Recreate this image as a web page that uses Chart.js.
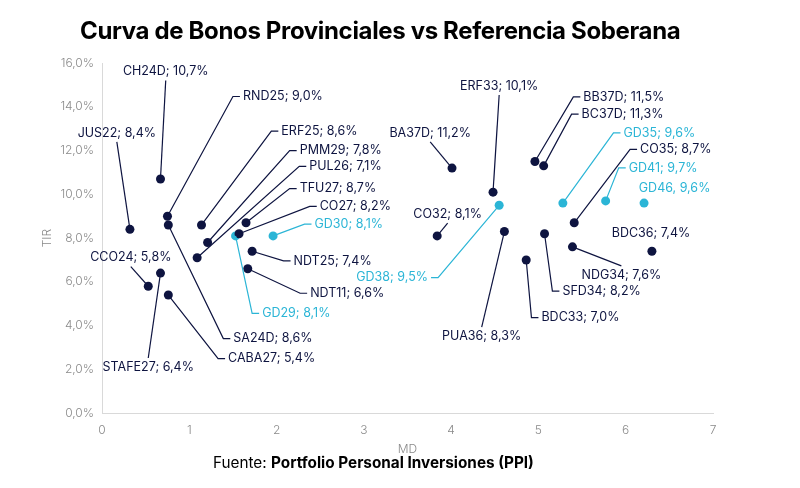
<!DOCTYPE html>
<html>
<head>
<meta charset="utf-8">
<script src="https://cdn.jsdelivr.net/npm/chart.js@4.4.1/dist/chart.umd.min.js"></script>
<style>
  body { margin: 0; background: #fff; font-family: Inter, "Noto Sans", sans-serif; }
  #wrap { position: relative; width: 800px; height: 488px; }
  #titulo { position: absolute; left: 80px; top: 16px; font-size: 24px; font-weight: 700; color: #000; letter-spacing: -0.35px; white-space: nowrap; }
  #fuente { position: absolute; left: 213px; top: 453px; font-size: 15.3px; color: #000; white-space: nowrap; letter-spacing: 0px; }
  #fuente b { font-weight: 700; }
  canvas { position: absolute; left: 0; top: 0; }
</style>
</head>
<body>
<div id="wrap">
  <canvas id="graficaCurva" width="800" height="488"></canvas>
  <div id="titulo">Curva de Bonos Provinciales vs Referencia Soberana</div>
  <div id="fuente">Fuente: <b>Portfolio Personal Inversiones (PPI)</b></div>
</div>
<script>
// Bonos provinciales (puntos azul oscuro)
const provNombres = ['JUS22', 'CH24D', 'RND25', 'SA24D', 'ERF25', 'PMM29', 'PUL26', 'TFU27', 'CO27', 'NDT25', 'NDT11', 'CCO24', 'STAFE27', 'CABA27',
                     'ERF33', 'BA37D', 'BB37D', 'BC37D', 'CO35', 'CO32', 'PUA36', 'SFD34', 'NDG34', 'BDC36', 'BDC33'];
const provMD  = [0.32, 0.67, 0.75, 0.76, 1.14, 1.21, 1.09, 1.65, 1.57, 1.72, 1.67, 0.53, 0.67, 0.76,
                 4.48, 4.01, 4.96, 5.06, 5.41, 3.84, 4.61, 5.07, 5.39, 6.30, 4.86];
const provTIR = [8.4, 10.7, 9.0, 8.6, 8.6, 7.8, 7.1, 8.7, 8.2, 7.4, 6.6, 5.8, 6.4, 5.4,
                 10.1, 11.2, 11.5, 11.3, 8.7, 8.1, 8.3, 8.2, 7.6, 7.4, 7.0];

// Referencia soberana (puntos celestes)
const sobNombres = ['GD29', 'GD30', 'GD38', 'GD35', 'GD41', 'GD46'];
const sobMD  = [1.53, 1.96, 4.55, 5.28, 5.77, 6.21];
const sobTIR = [8.1, 8.1, 9.5, 9.6, 9.7, 9.6];

// Ejes
const ticksMD = [0, 1, 2, 3, 4, 5, 6, 7];
const ticksTIR = [0, 2, 4, 6, 8, 10, 12, 14, 16];

// Posicion de cada etiqueta (en unidades del grafico) y tipo de guia
// 'codo': linea hasta el codo y texto a la derecha; 'codoIzq': texto a la izquierda;
// 'tallo': texto centrado con linea recta; 'nada': solo texto
const posEtiquetas = {
    RND25: ['codo', 1.50, 14.47], ERF25: ['codo', 1.94, 12.89], PMM29: ['codo', 2.15, 12.00],
    PUL26: ['codo', 2.26, 11.28], TFU27: ['codo', 2.15, 10.26], CO27: ['codo', 2.38, 9.45],
    GD30: ['codo', 2.32, 8.64], NDT25: ['codo', 2.08, 6.96], NDT11: ['codo', 2.27, 5.48],
    GD29: ['codo', 1.72, 4.56], SA24D: ['codo', 1.39, 3.41], CABA27: ['codo', 1.33, 2.49],
    BB37D: ['codo', 5.40, 14.45], BC37D: ['codo', 5.38, 13.66], GD35: ['codo', 5.86, 12.81],
    CO35: ['codo', 6.05, 12.05], GD41: ['codo', 5.92, 11.21], SFD34: ['codo', 5.16, 5.58],
    BDC33: ['codo', 4.92, 4.37], GD38: ['codoIzq', 3.85, 6.19],
    CH24D: ['tallo', 0.73, 15.61], JUS22: ['tallo', 0.17, 12.81], CCO24: ['tallo', 0.33, 7.11],
    STAFE27: ['tallo', 0.53, 2.11], ERF33: ['tallo', 4.55, 14.95], BA37D: ['tallo', 3.76, 12.81],
    CO32: ['tallo', 3.96, 9.10], NDG34: ['tallo', 5.95, 6.32], PUA36: ['tallo', 4.35, 3.52],
    GD46: ['nada', 6.56, 10.29], BDC36: ['nada', 6.29, 8.20]
};
// El original usa coma en vez de punto y coma para GD46
const separadores = { GD46: ', ' };

const AZUL = '#0e1440';
const CELESTE = '#2bb5d6';

function fmtPct(v) {
    return v.toFixed(1).replace('.', ',') + '%';
}

function armarPuntos(nombres, md, tir) {
    return nombres.map((n, i) => ({ x: md[i], y: tir[i], nombre: n }));
}

// Plugin que dibuja las etiquetas con sus lineas guia
const etiquetasPlugin = {
    id: 'etiquetasBonos',
    afterDatasetsDraw(chart) {
        const ctx = chart.ctx;
        const sx = chart.scales.x;
        const sy = chart.scales.y;
        ctx.save();
        ctx.font = '12.5px Inter, "Noto Sans", sans-serif';
        ctx.textBaseline = 'middle';
        ctx.lineWidth = 1.2;
        chart.data.datasets.forEach((ds, di) => {
            const meta = chart.getDatasetMeta(di);
            ds.data.forEach((p, i) => {
                const conf = posEtiquetas[p.nombre];
                if (!conf) return;
                const el = meta.data[i];
                const texto = p.nombre + (separadores[p.nombre] || '; ') + fmtPct(p.y);
                const tx = sx.getPixelForValue(conf[1]);
                const ty = sy.getPixelForValue(conf[2]);
                ctx.strokeStyle = ds.backgroundColor;
                ctx.fillStyle = ds.backgroundColor;
                ctx.beginPath();
                if (conf[0] === 'codo') {
                    ctx.moveTo(el.x, el.y);
                    ctx.lineTo(tx, ty);
                    ctx.lineTo(tx + 7, ty);
                    ctx.stroke();
                    ctx.textAlign = 'left';
                    ctx.fillText(texto, tx + 10, ty);
                } else if (conf[0] === 'codoIzq') {
                    ctx.moveTo(el.x, el.y);
                    ctx.lineTo(tx, ty);
                    ctx.lineTo(tx - 7, ty);
                    ctx.stroke();
                    ctx.textAlign = 'right';
                    ctx.fillText(texto, tx - 10, ty);
                } else if (conf[0] === 'tallo') {
                    const dy = el.y > ty ? 9 : -9;
                    ctx.moveTo(tx, ty + dy);
                    ctx.lineTo(el.x, el.y);
                    ctx.stroke();
                    ctx.textAlign = 'center';
                    ctx.fillText(texto, tx, ty);
                } else {
                    ctx.textAlign = 'center';
                    ctx.fillText(texto, tx, ty);
                }
            });
        });
        ctx.restore();
    }
};

document.addEventListener('DOMContentLoaded', function () {
    const canvas = document.getElementById('graficaCurva');
    new Chart(canvas.getContext('2d'), {
        type: 'scatter',
        data: {
            datasets: [
                {
                    label: 'Provinciales',
                    data: armarPuntos(provNombres, provMD, provTIR),
                    backgroundColor: AZUL,
                    borderWidth: 0,
                    pointRadius: 4.5
                },
                {
                    label: 'Soberanos',
                    data: armarPuntos(sobNombres, sobMD, sobTIR),
                    backgroundColor: CELESTE,
                    borderWidth: 0,
                    pointRadius: 4.5
                }
            ]
        },
        options: {
            responsive: false,
            animation: false,
            devicePixelRatio: 1,
            layout: { padding: { top: 63, right: 87, bottom: 31, left: 32 } },
            plugins: {
                legend: { display: false },
                tooltip: { enabled: false }
            },
            scales: {
                x: {
                    type: 'linear',
                    min: 0,
                    max: 7,
                    afterBuildTicks: axis => { axis.ticks = ticksMD.map(v => ({ value: v })); },
                    grid: { display: false },
                    border: { display: true, color: '#d9d9d9', width: 1 },
                    ticks: { color: '#8a8a8a', padding: 2, font: { family: 'Inter', size: 12, weight: 300 } },
                    title: { display: true, text: 'MD', color: '#8a8a8a', padding: { top: 3, bottom: 0 }, font: { family: 'Inter', size: 12, weight: 300 } }
                },
                y: {
                    type: 'linear',
                    min: 0,
                    max: 16,
                    afterBuildTicks: axis => { axis.ticks = ticksTIR.map(v => ({ value: v })); },
                    afterFit: axis => { axis.width = 70; },
                    grid: { display: false },
                    border: { display: true, color: '#d9d9d9', width: 1 },
                    ticks: { color: '#8a8a8a', padding: 0, font: { family: 'Inter', size: 12, weight: 300 }, callback: v => fmtPct(v) },
                    title: { display: true, text: 'TIR', color: '#8a8a8a', padding: { top: 8, bottom: 0 }, font: { family: 'Inter', size: 12, weight: 300 } }
                }
            }
        },
        plugins: [etiquetasPlugin]
    });
});
</script>
</body>
</html>
